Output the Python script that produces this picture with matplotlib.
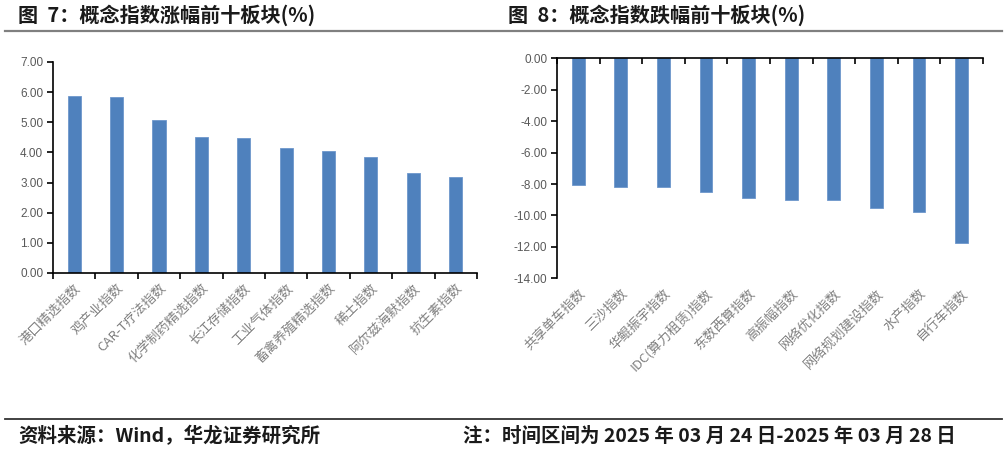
import numpy as np
from matplotlib import pyplot as plt
from matplotlib.lines import Line2D
from matplotlib.ticker import FixedLocator

plt.rcParams['font.family'] = ['Noto Sans CJK SC', 'DejaVu Sans']

# data
up_names = ["港口精选指数", "鸡产业指数", "CAR-T疗法指数", "化学制药精选指数", "长江存储指数",
            "工业气体指数", "畜禽养殖精选指数", "稀土指数", "阿尔兹海默指数", "抗生素指数"]
up_values = [5.88, 5.83, 5.08, 4.52, 4.48, 4.16, 4.04, 3.84, 3.33, 3.18]

down_names = ["共享单车指数", "三沙指数", "华鲲振宇指数", "IDC(算力租赁)指数", "东数西算指数",
              "高振幅指数", "网络优化指数", "网络规划建设指数", "水产指数", "自行车指数"]
down_values = [-8.09, -8.21, -8.21, -8.53, -8.89, -9.00, -9.04, -9.55, -9.80, -11.76]

BAR = "#4F81BD"
GRAY = "#808080"
TICKFONT = "Liberation Sans"

fig = plt.figure(figsize=(10.07, 4.51), dpi=100)

# header / footer
fig.text(0.0179, 0.9667, "图  7：概念指数涨幅前十板块(%)", fontsize=14.5, fontweight="bold",
         va="center", ha="left", color="#1a1a1a")
fig.text(0.5045, 0.9667, "图  8：概念指数跌幅前十板块(%)", fontsize=14.5, fontweight="bold",
         va="center", ha="left", color="#1a1a1a")
fig.add_artist(Line2D([0.005, 0.995], [0.9313, 0.9313], transform=fig.transFigure,
                      color="#808080", lw=1.6))
fig.add_artist(Line2D([0.005, 0.995], [0.071, 0.071], transform=fig.transFigure,
                      color="#333333", lw=1.3))
fig.text(0.0179, 0.0333, "资料来源：Wind，华龙证券研究所", fontsize=14, fontweight="bold",
         va="center", ha="left", color="#1a1a1a")
fig.text(0.46, 0.0333, "注：时间区间为 2025 年 03 月 24 日-2025 年 03 月 28 日", fontsize=14,
         fontweight="bold", va="center", ha="left", color="#1a1a1a")


def style_common(ax, n):
    ax.set_xlim(-0.5, n - 0.5)
    ax.xaxis.set_major_locator(FixedLocator(np.arange(n)))
    ax.xaxis.set_minor_locator(FixedLocator(np.arange(n + 1) - 0.5))
    ax.spines["right"].set_visible(False)
    ax.spines["left"].set_linewidth(1.2)
    ax.tick_params(axis="y", direction="out", length=4, width=1.2, labelsize=8.5,
                   labelcolor="#595959", pad=3)


# left chart
ax1 = fig.add_axes([0.0526, 0.3947, 0.421, 0.468])
x = np.arange(len(up_values))
ax1.bar(x, up_values, width=0.31, color=BAR, edgecolor="#6d97cc", linewidth=0.6)
ax1.set_ylim(0, 7)
ax1.set_yticks(np.arange(0, 8, 1))
ax1.set_yticklabels(["%.2f" % v for v in np.arange(0, 8, 1)])
style_common(ax1, len(up_values))
ax1.spines["top"].set_visible(False)
ax1.spines["bottom"].set_linewidth(1.2)
ax1.tick_params(axis="x", which="major", length=0, pad=6)
ax1.tick_params(axis="x", which="minor", direction="out", length=4, width=1.2)
ax1.set_xticklabels(up_names, rotation=45, ha="right", va="top", rotation_mode="anchor",
                    fontsize=9.5, color=GRAY)
for lab in ax1.get_yticklabels():
    lab.set_fontfamily(TICKFONT)

# right chart
ax2 = fig.add_axes([0.5531, 0.3829, 0.423, 0.4878])
x = np.arange(len(down_values))
ax2.bar(x, down_values, width=0.30, color=BAR, edgecolor="#6d97cc", linewidth=0.6)
ax2.set_ylim(-14, 0)
ax2.set_yticks(np.arange(-14, 1, 2))
ax2.set_yticklabels(["%.2f" % v for v in np.arange(-14, 1, 2)])
style_common(ax2, len(down_values))
ax2.spines["bottom"].set_visible(False)
ax2.spines["top"].set_linewidth(1.2)
ax2.tick_params(axis="x", which="major", length=0, pad=6, bottom=True, top=False)
ax2.tick_params(axis="x", which="minor", direction="in", length=4, width=1.2,
                bottom=False, top=True)
ax2.set_xticklabels(down_names, rotation=45, ha="right", va="top", rotation_mode="anchor",
                    fontsize=9.5, color=GRAY)
for lab in ax2.get_yticklabels():
    lab.set_fontfamily(TICKFONT)

fig.savefig("out.png", dpi=100)
